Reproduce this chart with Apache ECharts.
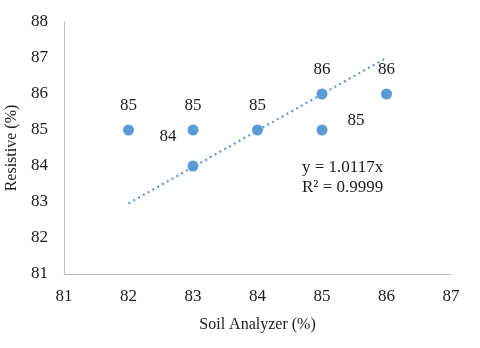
<!DOCTYPE html>
<html>
<head>
	<meta charset="utf-8">
	<title>Soil Analyzer vs Resistive</title>
	<style>
		html, body { margin: 0; padding: 0; background: #fff; }
		#chart { width: 480px; height: 348px; }
	</style>
	<script src="https://cdn.jsdelivr.net/npm/echarts@6/dist/echarts.min.js"></script>
</head>
<body>
	<div id="chart"></div>
	<script>
		// 数据
		var soilAnalyzer = [82, 83, 83, 84, 85, 85, 86];
		var resistive = [85, 85, 84, 85, 86, 85, 86];
		var pointLabels = ['85', '85', '84', '85', '86', '85', '86'];
		var trendSlope = 1.0117;
		var trendRange = [82, 86];
		var equationText = ['y = 1.0117x', 'R² = 0.9999'];

		var font = '"Liberation Serif", "DejaVu Serif", serif';
		var blue = '#5B9BD5';
		var textColor = '#1a1a1a';

		// 标签偏移 (Excel 手动挪过的)
		var labelOffsets = [[0, -24], [0, -24], [-25, -29], [0, -24], [0, -24], [34, -9], [0, -24]];

		var points = [];
		for (var i = 0; i < soilAnalyzer.length; i++) {
			points.push({
				value: [soilAnalyzer[i], resistive[i]],
				label: {
					show: true,
					position: 'inside',
					offset: labelOffsets[i],
					formatter: pointLabels[i]
				}
			});
		}

		var trend = [
			[trendRange[0], trendSlope * trendRange[0]],
			[trendRange[1], trendSlope * trendRange[1]]
		];

		var myChart = echarts.init(document.getElementById('chart'));
		var option = {
			animation: false,
			grid: { left: 64, right: 29, top: 22, bottom: 74, outerBoundsMode: 'none', containLabel: false },
			xAxis: {
				type: 'value',
				min: 81, max: 87, interval: 1,
				name: 'Soil Analyzer (%)',
				nameLocation: 'middle',
				nameGap: 43,
				nameTextStyle: { fontFamily: font, fontSize: 16, color: textColor },
				axisLine: { lineStyle: { color: '#bfbfbf', width: 1 } },
				axisTick: { show: false },
				splitLine: { show: false },
				axisLabel: { fontFamily: font, fontSize: 17, color: textColor, margin: 14 }
			},
			yAxis: {
				type: 'value',
				min: 81, max: 88, interval: 1,
				name: 'Resistive (%)',
				nameLocation: 'middle',
				nameGap: 38,
				nameTextStyle: { fontFamily: font, fontSize: 16, color: textColor },
				axisLine: { show: true, lineStyle: { color: '#bfbfbf', width: 1 } },
				axisTick: { show: false },
				splitLine: { show: false },
				axisLabel: { fontFamily: font, fontSize: 17, color: textColor, margin: 16 }
			},
			series: [{
				type: 'line',
				data: trend,
				showSymbol: false,
				silent: true,
				lineStyle: { color: blue, width: 2.2, type: [2, 3.5] },
				z: 1
			}, {
				type: 'scatter',
				data: points,
				symbolSize: 11,
				itemStyle: { color: blue, opacity: 1 },
				label: { fontFamily: font, fontSize: 17, color: textColor, textBorderWidth: 0 },
				z: 2
			}],
			graphic: [{
				type: 'text',
				left: 302,
				top: 158,
				style: {
					text: equationText.join('\n'),
					font: '17px ' + font,
					fill: textColor,
					lineHeight: 20
				}
			}]
		};
		myChart.setOption(option);
	</script>
</body>
</html>
